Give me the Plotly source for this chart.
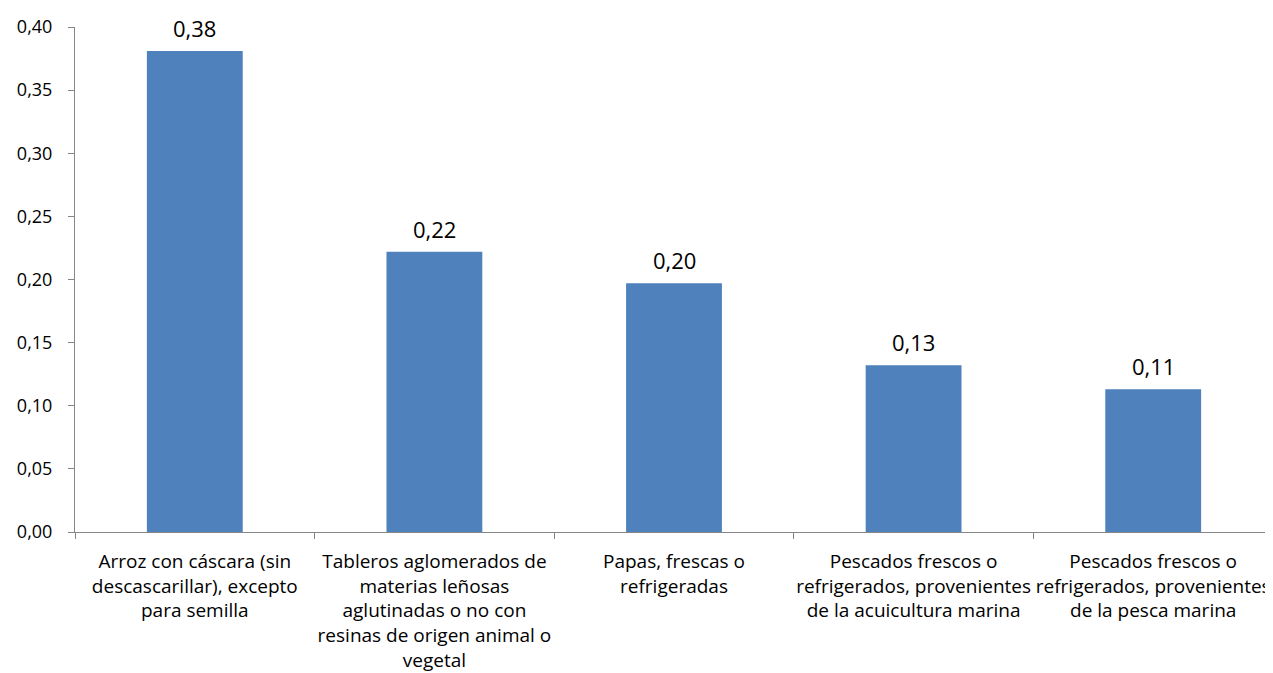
import plotly.graph_objects as go

# Data
CATEGORIES = [
    "Arroz con cáscara (sin<br>descascarillar), excepto<br>para semilla",
    "Tableros aglomerados de<br>materias leñosas<br>aglutinadas o no con<br>resinas de origen animal o<br>vegetal",
    "Papas, frescas o<br>refrigeradas",
    "Pescados frescos o<br>refrigerados, provenientes<br>de la acuicultura marina",
    "Pescados frescos o<br>refrigerados, provenientes<br>de la pesca marina",
]
VALUES = [0.381, 0.222, 0.197, 0.132, 0.113]
Y_TICKS = [0.0, 0.05, 0.10, 0.15, 0.20, 0.25, 0.30, 0.35, 0.40]

BAR_COLOR = "#4F81BD"
AXIS_COLOR = "#868686"
FONT_FAMILY = "Open Sans, sans-serif"

fig = go.Figure(
    go.Bar(
        x=CATEGORIES,
        y=VALUES,
        marker=dict(color=BAR_COLOR, line=dict(width=0)),
        width=0.4,
        hoverinfo="skip",
    )
)

# Value labels above the bars
for cat, val in zip(CATEGORIES, VALUES):
    fig.add_annotation(
        x=cat,
        y=val,
        text=f"{val:.2f}".replace(".", ","),
        showarrow=False,
        yanchor="bottom",
        yshift=6,
        font=dict(family=FONT_FAMILY, size=22, color="black"),
    )

fig.update_xaxes(
    showline=True,
    linecolor=AXIS_COLOR,
    linewidth=1,
    ticks="outside",
    tickson="boundaries",
    ticklen=6,
    tickcolor=AXIS_COLOR,
    ticklabelstandoff=12,
    tickfont=dict(family=FONT_FAMILY, size=19, color="black"),
    tickangle=0,
    range=[-0.5, 4.5],
    showgrid=False,
    automargin=False,
)
fig.update_yaxes(
    range=[0, 0.40],
    tickvals=Y_TICKS,
    tickformat=".2f",
    showline=True,
    linecolor=AXIS_COLOR,
    linewidth=1,
    ticks="outside",
    ticklen=6,
    tickcolor=AXIS_COLOR,
    ticklabelstandoff=12,
    tickfont=dict(family=FONT_FAMILY, size=18, color="black"),
    showgrid=False,
    zeroline=False,
    automargin=False,
)
# page body adds 8px, so the figure is sized and offset to match
fig.update_layout(
    width=1265,
    height=665,
    separators=",.",
    plot_bgcolor="white",
    paper_bgcolor="white",
    margin=dict(l=67, r=0, t=19, b=141),
    showlegend=False,
    font=dict(family=FONT_FAMILY),
)

fig.write_html("out.html")
